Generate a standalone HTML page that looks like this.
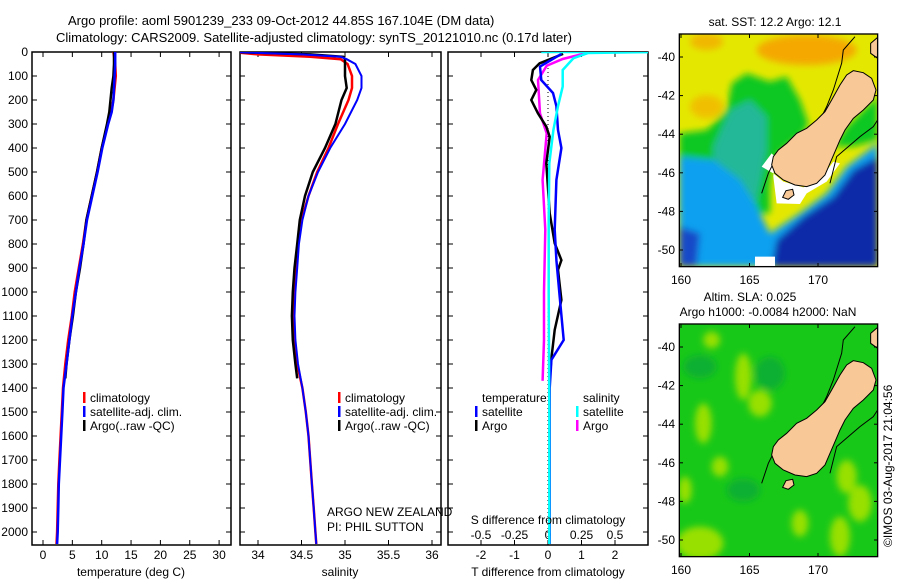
<!DOCTYPE html>
<html><head><meta charset="utf-8">
<style>
html,body{margin:0;padding:0;background:#fff;}
svg{display:block;font-family:"Liberation Sans",sans-serif;}
</style></head>
<body>
<svg id="chart" width="900" height="580" viewBox="0 0 900 580" xmlns="http://www.w3.org/2000/svg">
<defs>
<clipPath id="c1"><rect x="32" y="52" width="199" height="493"/></clipPath>
<clipPath id="c2"><rect x="240" y="52" width="201" height="493"/></clipPath>
<clipPath id="c3"><rect x="448" y="52" width="200" height="493"/></clipPath>
<clipPath id="cm"><rect x="58" y="102" width="595" height="698"/></clipPath>
<filter id="blur"><feGaussianBlur stdDeviation="10"/></filter>
</defs>
<text x="68" y="25" font-size="13">Argo profile: aoml 5901239_233 09-Oct-2012 44.85S 167.104E (DM data)</text>
<text x="56" y="42" font-size="13">Climatology: CARS2009. Satellite-adjusted climatology: synTS_20121010.nc (0.17d later)</text>
<g id="g1"></g>
<g id="g2"></g>
<g id="g3"></g>
<g id="map1"></g>
<g id="map2"></g>
<text x="0" y="0" font-size="12" transform="translate(892,547) rotate(-90)">©IMOS 03-Aug-2017 21:04:56</text>
</svg>
<script>
// ---- data ----
const tDepth=[0,50,100,150,200,250,300,400,500,600,700,800,900,1000,1100,1200,1300,1400,1500,1600,1700,1800,1900,2000,2050];
const tClim=[12.0,12.3,12.4,12.2,12.0,11.6,11.0,10.0,9.2,8.3,7.4,6.8,6.1,5.4,4.9,4.3,3.8,3.4,3.2,3.0,2.8,2.6,2.5,2.4,2.3];
const tSat=[12.3,12.3,12.2,12.1,12.0,11.7,11.1,10.1,9.3,8.4,7.5,6.9,6.2,5.6,5.0,4.5,4.0,3.5,3.3,3.1,2.9,2.7,2.6,2.5,2.4];
const tArgoDepth=[0,50,100,150,200,250,300,400,500,600,700,800,900,1000,1100,1200,1300,1360];
const tArgo=[12.1,12.1,12.0,11.7,11.5,11.3,10.9,10.0,9.2,8.3,7.4,6.9,6.3,5.6,5.1,4.5,4.0,3.8];
const sDepth=[0,10,20,30,50,100,150,200,300,400,500,600,700,800,900,1000,1100,1200,1300,1400,1500,1600,1700,1800,1900,2000,2050];
const sClim=[33.7,34.0,34.6,34.95,35.03,35.08,35.08,35.04,34.92,34.81,34.68,34.58,34.5,34.46,34.44,34.42,34.41,34.42,34.45,34.51,34.55,34.58,34.6,34.62,34.64,34.66,34.67];
const sSat=[33.7,34.5,34.95,35.02,35.12,35.19,35.19,35.14,35.0,34.83,34.69,34.58,34.51,34.47,34.45,34.43,34.42,34.43,34.46,34.51,34.55,34.58,34.6,34.62,34.64,34.66,34.67];
const sArgoDepth=[0,10,20,30,50,100,150,200,300,400,500,600,700,800,900,1000,1100,1200,1300,1360];
const sArgo=[33.7,34.6,34.98,35.0,35.0,35.0,35.02,34.96,34.89,34.77,34.63,34.54,34.48,34.45,34.42,34.4,34.39,34.4,34.43,34.45];
const dTSatDepth=[8,61,117,171,226,325,400,533,741,867,1020,1200,1283,1400,1600,1800,2050];
const dTSat=[0.4,-0.24,-0.2,0.15,0.25,0.3,0.4,0.25,0.2,0.25,0.35,0.47,0.1,0.05,0.05,0.05,0.05];
const dTArgoDepth=[8,47,75,117,158,200,256,311,353,464,672,797,867,908,1033,1158,1276,1360];
const dTArgo=[0.45,-0.25,-0.45,-0.5,-0.35,-0.5,-0.3,-0.05,0.05,-0.05,0.05,0.2,0.4,0.3,0.4,0.2,0.1,0.05];
const dSSatDepth=[0,0,4,26,75,144,226,325,464,700,1000,1500,2050];
const dSSat=[-0.05,0.8,0.3,0.19,0.11,0.11,0.075,0.04,0.01,0.005,0.005,0.01,0.01];
const dSArgoDepth=[0,8,29,57,117,256,339,533,741,1000,1200,1370];
const dSArgo=[0.3,0.26,0.11,-0.01,-0.075,-0.06,-0.01,-0.04,-0.02,-0.03,-0.03,-0.04];
const depthTicks=[0,100,200,300,400,500,600,700,800,900,1000,1100,1200,1300,1400,1500,1600,1700,1800,1900,2000];
const tempTicks=[0,5,10,15,20,25,30];
const salTicks=[34,34.5,35,35.5,36];
const salTickLabels=["34","34.5","35","35.5","36"];
const dTTicks=[-2,-1,0,1,2];
const dSTicks=[-0.5,-0.25,0,0.25,0.5];
const latTicks=[-40,-42,-44,-46,-48,-50];
const lonTicks=[160,165,170];

// ---- scales ----
const yD=d=>52+d*0.24;
const xT=v=>43+v*5.87;
const xS=v=>258+(v-34)*87;
const xDT=v=>548+v*33.5;
const xDS=v=>548+v*134;
const NS='http://www.w3.org/2000/svg';
function mk(tag,attrs,parent){const e=document.createElementNS(NS,tag);for(const k in attrs)e.setAttribute(k,attrs[k]);parent.appendChild(e);return e;}
function txt(parent,x,y,s,anchor,size){const t=mk('text',{x:x,y:y,'font-size':size||12,'text-anchor':anchor||'start'},parent);t.textContent=s;return t;}

function frame(g,x0,x1){
  const r=mk('rect',{x:x0,y:52,width:x1-x0,height:493,fill:'none',stroke:'#000','stroke-width':1.5},g);
  
  
  depthTicks.forEach(d=>{
    mk('line',{x1:x0,x2:x0+5,y1:yD(d),y2:yD(d),stroke:'#000'},g);
    mk('line',{x1:x1-5,x2:x1,y1:yD(d),y2:yD(d),stroke:'#000'},g);
  });
}
function series(g,clip,ds,vs,sx,color,name,w){
  let p='';
  for(let i=0;i<ds.length;i++)p+=(i?'L':'M')+sx(vs[i]).toFixed(1)+','+yD(ds[i]).toFixed(1);
  const e=mk('path',{d:p,fill:'none',stroke:color,'stroke-width':w||2.5,'clip-path':'url(#'+clip+')'},g);
  
  
}
function legend(g,x,y,color,label,name){
  mk('rect',{x:x,y:y-10,width:2.5,height:11,fill:color},g);
  const t=txt(g,x+7,y,label);
  
  
}

const svg=document.getElementById('chart');
depthTicks.forEach(d=>{const t=txt(svg,28,yD(d)+4,String(d),'end');
  
  });

// panel 1
const g1=document.getElementById('g1');
frame(g1,32,231);
tempTicks.forEach(v=>{mk('line',{x1:xT(v),x2:xT(v),y1:52,y2:57,stroke:'#000'},g1);mk('line',{x1:xT(v),x2:xT(v),y1:540,y2:545,stroke:'#000'},g1);
  const t=txt(g1,xT(v),559,String(v),'middle');
  
  });
series(g1,'c1',tDepth,tClim,xT,'#ff0000','temperature-climatology-line');
series(g1,'c1',tArgoDepth,tArgo,xT,'#000','temperature-argo-line');
series(g1,'c1',tDepth,tSat,xT,'#0000ff','temperature-satellite-line');
let a=txt(g1,131,576,'temperature (deg C)','middle');


legend(g1,83,402,'#ff0000','climatology','legend-entry-climatology');
legend(g1,83,416,'#0000ff','satellite-adj. clim.','legend-entry-satellite');
legend(g1,83,430,'#000','Argo(..raw -QC)','legend-entry-argo');

// panel 2
const g2=document.getElementById('g2');
frame(g2,240,441);
salTicks.forEach((v,i)=>{mk('line',{x1:xS(v),x2:xS(v),y1:52,y2:57,stroke:'#000'},g2);mk('line',{x1:xS(v),x2:xS(v),y1:540,y2:545,stroke:'#000'},g2);
  const t=txt(g2,xS(v),559,salTickLabels[i],'middle');
  
  });
series(g2,'c2',sDepth,sClim,xS,'#ff0000','salinity-climatology-line');
series(g2,'c2',sArgoDepth,sArgo,xS,'#000','salinity-argo-line');
series(g2,'c2',sDepth,sSat,xS,'#0000ff','salinity-satellite-line',2);
a=txt(g2,340,576,'salinity','middle');


legend(g2,338,402,'#ff0000','climatology','legend-entry-climatology');
legend(g2,338,416,'#0000ff','satellite-adj. clim.','legend-entry-satellite');
legend(g2,338,430,'#000','Argo(..raw -QC)','legend-entry-argo');
a=txt(g2,327,516,'ARGO NEW ZEALAND');


a=txt(g2,327,531,'PI: PHIL SUTTON');



// panel 3
const g3=document.getElementById('g3');
frame(g3,448,648);
dTTicks.forEach(v=>{mk('line',{x1:xDT(v),x2:xDT(v),y1:52,y2:57,stroke:'#000'},g3);mk('line',{x1:xDT(v),x2:xDT(v),y1:540,y2:545,stroke:'#000'},g3);
  const t=txt(g3,xDT(v),559,String(v),'middle');
  
  });
dSTicks.forEach(v=>{const t=txt(g3,xDS(v),539,String(v),'middle');
  
  });
mk('line',{x1:548,x2:548,y1:52,y2:545,stroke:'#000','stroke-dasharray':'1,3'},g3);
series(g3,'c3',dSArgoDepth,dSArgo,xDS,'#ff00ff','s-diff-argo-line');
series(g3,'c3',dTArgoDepth,dTArgo,xDT,'#000','t-diff-argo-line');
series(g3,'c3',dTSatDepth,dTSat,xDT,'#0000ff','t-diff-satellite-line');
series(g3,'c3',dSSatDepth,dSSat,xDS,'#00ffff','s-diff-satellite-line');
a=txt(g3,548,576,'T difference from climatology','middle');


a=txt(g3,548,524,'S difference from climatology','middle');


a=txt(g3,482,402,'temperature');


a=txt(g3,583,402,'salinity');


legend(g3,475,416,'#0000ff','satellite','legend-entry-t-satellite');
legend(g3,475,430,'#000','Argo','legend-entry-t-argo');
legend(g3,576,416,'#00ffff','satellite','legend-entry-s-satellite');
legend(g3,576,430,'#ff00ff','Argo','legend-entry-s-argo');

// ---- maps (drawn in 3x zoom coordinates) ----
const land="340,470 355,450 380,430 410,400 440,385 470,360 495,335 515,300 540,255 560,225 580,212 610,218 635,235 648,270 640,300 610,330 580,355 555,390 540,420 525,455 510,490 495,525 470,550 440,560 405,555 370,540 345,520 335,495";
const stewart="368,592 378,572 398,568 402,585 385,598";
function map(id,dy,sst){
  const g=document.getElementById(id);
  const inner=mk('g',{transform:'translate(660,'+dy+') scale(0.3333)'},g);
  const body=mk('g',{'clip-path':'url(#cm)'},inner);
  if(sst){
    mk('rect',{x:58,y:102,width:595,height:698,fill:'#e4e800'},body);
    const fx=mk('g',{filter:'url(#blur)'},body);
    mk('ellipse',{cx:440,cy:150,rx:150,ry:45,fill:'#f4a800'},fx);
    mk('ellipse',{cx:140,cy:125,rx:50,ry:25,fill:'#f0b800'},fx);
    mk('ellipse',{cx:140,cy:320,rx:50,ry:35,fill:'#f0c000'},fx);
    mk('polygon',{points:'58,400 140,390 200,330 215,250 260,220 330,245 380,230 420,300 445,370 430,400 380,440 340,480 330,560 330,640 200,640 58,620',fill:'#10c820'},fx);
    mk('polygon',{points:'520,440 560,380 610,330 653,290 653,420 580,440',fill:'#10c820'},fx);
    mk('polygon',{points:'160,440 210,330 270,300 320,350 320,450 300,560 280,650 210,620 160,520',fill:'#20b898'},fx);
    mk('polygon',{points:'58,470 160,480 240,540 290,620 330,700 420,640 500,580 560,500 653,430 653,800 58,800',fill:'#10a0f0'},fx);
    mk('polygon',{points:'335,800 350,720 430,650 520,590 580,510 653,470 653,800',fill:'#0c2ca8'},fx);
    mk('polygon',{points:'58,680 120,700 110,800 58,800',fill:'#1848c8'},fx);
    mk('polygon',{points:'305,500 335,460 345,470 340,530 350,610 420,612 440,580 500,545 540,490 520,485 480,540 430,562 370,545 340,520',fill:'#fff'},body);
    mk('rect',{x:285,y:770,width:60,height:30,fill:'#fff'},body);
  } else {
    mk('rect',{x:58,y:102,width:595,height:698,fill:'#18c818'},body);
    const fx=mk('g',{filter:'url(#blur)'},body);
    [[250,260,25,70],[130,400,25,60],[300,340,35,40],[120,760,70,50],[600,640,35,55],[180,530,25,30],[540,740,30,60],[75,600,20,40],[155,150,25,25],[420,700,25,40],[560,560,30,50]].forEach(e=>mk('ellipse',{cx:e[0],cy:e[1],rx:e[2],ry:e[3],fill:'#98e000'},fx));
    [[120,230,50,35],[330,250,45,50],[450,450,35,50],[250,600,50,35]].forEach(e=>mk('ellipse',{cx:e[0],cy:e[1],rx:e[2],ry:e[3],fill:'#10b030'},fx));
  }
  mk('polyline',{points:'305,580 325,520 350,470 400,430 450,395 480,360 500,320 520,270 545,190 550,150 585,110',fill:'none',stroke:'#000','stroke-width':3},body);
  mk('polyline',{points:'510,550 530,470 565,440 600,410 640,380 653,360',fill:'none',stroke:'#000','stroke-width':3},body);
  const l=mk('polygon',{points:land,fill:'#f8c896',stroke:'#000','stroke-width':3},body);
  
  
  mk('polygon',{points:stewart,fill:'#f8c896',stroke:'#000','stroke-width':3},body);
  mk('polygon',{points:'632,130 653,112 653,175 632,160',fill:'#f8c896',stroke:'#000','stroke-width':3},body);
  mk('rect',{x:58,y:102,width:595,height:698,fill:'none',stroke:'#000','stroke-width':4},inner);
  latTicks.forEach(v=>{const y=57+(-40-v)*19.3+dy;
    mk('line',{x1:679,x2:683,y1:y,y2:y,stroke:'#000'},g);
    mk('line',{x1:874,x2:878,y1:y,y2:y,stroke:'#000'},g);
    const t=txt(g,675,y+4,String(v),'end');
    
    });
  lonTicks.forEach(v=>{const x=681+(v-160)*13.7;
    mk('line',{x1:x,x2:x,y1:34+dy,y2:38+dy,stroke:'#000'},g);
    mk('line',{x1:x,x2:x,y1:263+dy,y2:267+dy,stroke:'#000'},g);
    const t=txt(g,x,284+dy,String(v),'middle');
    
    });
}
map('map1',0,true);
map('map2',290,false);
a=txt(svg,775,26,'sat. SST: 12.2 Argo: 12.1','middle');


a=txt(svg,750,301,'Altim. SLA: 0.025','middle');


a=txt(svg,768,316,'Argo h1000: -0.0084 h2000: NaN','middle');


</script>
</body></html>
